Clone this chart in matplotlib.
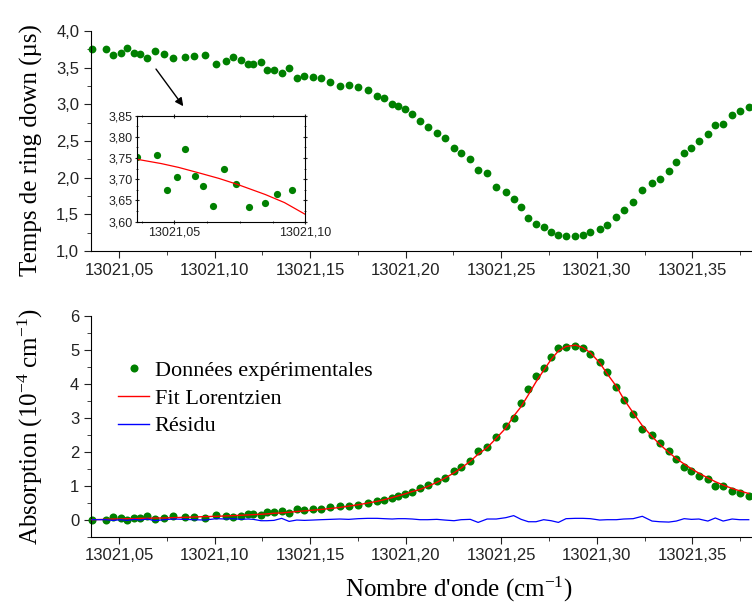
import matplotlib
matplotlib.use('Agg')
import matplotlib.pyplot as plt
from matplotlib.lines import Line2D
from matplotlib.ticker import MultipleLocator, FuncFormatter

# nombre d'onde (cm-1)
wn = [13021.0359, 13021.0432, 13021.0470, 13021.0510, 13021.0542, 13021.0580, 13021.0610, 13021.0648, 13021.0688, 13021.0735,
      13021.0784, 13021.0844, 13021.0891, 13021.0950, 13021.1009, 13021.1058, 13021.1097, 13021.1137, 13021.1175, 13021.1203,
      13021.1243, 13021.1274, 13021.1311, 13021.1351, 13021.1390, 13021.1430, 13021.1470, 13021.1515, 13021.1555, 13021.1606,
      13021.1655, 13021.1702, 13021.1752, 13021.1801, 13021.1850, 13021.1888, 13021.1929, 13021.1960, 13021.1997, 13021.2035,
      13021.2075, 13021.2115, 13021.2163, 13021.2204, 13021.2253, 13021.2290, 13021.2338, 13021.2379, 13021.2426, 13021.2474,
      13021.2524, 13021.2565, 13021.2604, 13021.2642, 13021.2682, 13021.2722, 13021.2761, 13021.2799, 13021.2839, 13021.2888,
      13021.2927, 13021.2966, 13021.3015, 13021.3054, 13021.3102, 13021.3141, 13021.3190, 13021.3238, 13021.3289, 13021.3329,
      13021.3377, 13021.3416, 13021.3457, 13021.3495, 13021.3534, 13021.3581, 13021.3620, 13021.3661, 13021.3708, 13021.3748,
      13021.3795]

# temps de ring down (us)
tau = [3.752, 3.757, 3.675, 3.705, 3.772, 3.707, 3.683, 3.637, 3.724, 3.688,
       3.634, 3.643, 3.665, 3.674, 3.553, 3.594, 3.641, 3.604, 3.545, 3.545,
       3.577, 3.467, 3.467, 3.426, 3.491, 3.362, 3.385, 3.372, 3.362, 3.299,
       3.253, 3.267, 3.231, 3.190, 3.112, 3.085, 2.999, 2.972, 2.935, 2.871,
       2.771, 2.685, 2.603, 2.539, 2.406, 2.343, 2.248, 2.111, 2.061, 1.879,
       1.801, 1.715, 1.596, 1.450, 1.374, 1.323, 1.264, 1.218, 1.210, 1.210,
       1.218, 1.255, 1.300, 1.350, 1.460, 1.559, 1.674, 1.828, 1.924, 1.983,
       2.088, 2.211, 2.334, 2.398, 2.507, 2.593, 2.720, 2.734, 2.853, 2.903,
       2.962]

# absorption (1e-4 cm-1)
absorb = [0.00, 0.00, 0.07, 0.04, 0.00, 0.04, 0.05, 0.11, 0.02, 0.05,
          0.11, 0.09, 0.07, 0.06, 0.15, 0.11, 0.09, 0.12, 0.16, 0.16,
          0.14, 0.22, 0.23, 0.26, 0.20, 0.31, 0.29, 0.31, 0.31, 0.37,
          0.41, 0.41, 0.44, 0.49, 0.54, 0.58, 0.65, 0.70, 0.75, 0.81,
          0.94, 1.03, 1.15, 1.24, 1.44, 1.56, 1.74, 2.01, 2.14, 2.44,
          2.75, 2.99, 3.43, 3.85, 4.22, 4.47, 4.79, 5.07, 5.10, 5.12,
          5.05, 4.87, 4.63, 4.34, 3.91, 3.52, 3.11, 2.66, 2.49, 2.27,
          2.02, 1.80, 1.55, 1.44, 1.30, 1.20, 0.99, 1.00, 0.84, 0.80,
          0.71]

fit = [0.00, 0.01, 0.02, 0.02, 0.03, 0.03, 0.04, 0.04, 0.05, 0.05,
       0.06, 0.07, 0.08, 0.09, 0.10, 0.11, 0.12, 0.13, 0.14, 0.15,
       0.16, 0.17, 0.19, 0.20, 0.22, 0.24, 0.26, 0.28, 0.30, 0.33,
       0.36, 0.40, 0.44, 0.49, 0.54, 0.59, 0.65, 0.70, 0.76, 0.83,
       0.89, 0.98, 1.10, 1.22, 1.38, 1.52, 1.72, 1.93, 2.12, 2.40,
       2.70, 3.05, 3.33, 3.68, 4.06, 4.40, 4.72, 4.97, 5.10, 5.14,
       5.07, 4.92, 4.62, 4.30, 3.93, 3.55, 3.15, 2.77, 2.45, 2.22,
       1.98, 1.80, 1.64, 1.50, 1.37, 1.23, 1.12, 1.02, 0.92, 0.85,
       0.77]

resid = [0.00, 0.00, -0.02, 0.00, -0.02, 0.01, -0.01, 0.02, -0.03, 0.00,
         0.02, 0.01, 0.00, -0.01, 0.03, 0.02, 0.03, 0.01, 0.02, 0.01,
         -0.03, -0.03, -0.02, 0.04, -0.05, -0.01, -0.02, -0.01, 0.00, 0.01,
         0.02, 0.01, 0.03, 0.04, 0.04, 0.03, 0.02, 0.03, 0.03, 0.02,
         0.00, 0.00, 0.01, -0.01, -0.03, 0.00, 0.01, -0.08, 0.02, 0.02,
         0.06, 0.12, 0.01, -0.06, -0.06, 0.00, -0.03, -0.08, 0.03, 0.04,
         0.04, 0.03, -0.01, 0.00, 0.00, 0.02, 0.03, 0.10, -0.04, -0.06,
         -0.07, -0.04, 0.03, 0.01, 0.02, -0.04, 0.05, -0.04, 0.02, 0.00,
         0.00]

# ajustement dans l'encart
wn_ins = [13021.0359, 13021.045, 13021.0516, 13021.060, 13021.067, 13021.074, 13021.0847, 13021.092, 13021.100]
tau_ins = [3.747, 3.737, 3.728, 3.714, 3.702, 3.688, 3.664, 3.645, 3.617]

plt.rcParams['font.family'] = 'Liberation Sans'
plt.rcParams['mathtext.fontset'] = 'custom'
plt.rcParams['mathtext.rm'] = 'Liberation Serif'
plt.rcParams['mathtext.it'] = 'Liberation Serif:italic'

serif = 'Liberation Serif'
green = '#008000'
xlim = (13021.03535, 13021.3812)


def comma(nd):
    fmt = '%.' + str(nd) + 'f'
    return FuncFormatter(lambda v, p: (fmt % v).replace('.', ','))


def style(ax):
    for s in ['top', 'right']:
        ax.spines[s].set_visible(False)
    ax.tick_params(which='both', direction='out', labelsize=12, colors='#222222')
    ax.tick_params(which='major', length=5)
    ax.tick_params(which='minor', length=3)
    ax.set_xlim(*xlim)
    ax.xaxis.set_major_locator(MultipleLocator(0.05))
    ax.xaxis.set_minor_locator(MultipleLocator(0.025))
    ax.xaxis.set_major_formatter(comma(2))


fig = plt.figure(figsize=(7.52, 6.06), dpi=100)

# panneau du haut
ax1 = fig.add_axes([0.1210, 0.5858, 0.8790, 0.3630])
style(ax1)
ax1.plot(wn, tau, 'o', color=green, ms=5.6, mec='none', clip_on=False)
ax1.set_ylim(1.0, 4.0)
ax1.yaxis.set_major_locator(MultipleLocator(0.5))
ax1.yaxis.set_minor_locator(MultipleLocator(0.25))
ax1.yaxis.set_major_formatter(comma(1))
ax1.set_ylabel('Temps de ring down (µs)', family=serif, fontsize=18)
ax1.yaxis.set_label_coords(-0.072, 0.46)
ax1.annotate('', xy=(13021.0845, 2.944), xytext=(13021.0685, 3.512),
             arrowprops=dict(arrowstyle='-|>', color='k', lw=1, mutation_scale=12))

# encart
ins = fig.add_axes([0.1828, 0.6342, 0.2234, 0.1749])
ins.plot(wn, tau, 'o', color=green, ms=5.2, mec='none', clip_on=True)
ins.plot(wn_ins, tau_ins, color='red', lw=0.9)
ins.set_xlim(13021.0359, 13021.100)
ins.set_ylim(3.60, 3.85)
ins.xaxis.set_major_locator(MultipleLocator(0.05))
ins.xaxis.set_minor_locator(MultipleLocator(0.0125))
ins.yaxis.set_major_locator(MultipleLocator(0.05))
ins.yaxis.set_minor_locator(MultipleLocator(0.025))
ins.xaxis.set_major_formatter(comma(2))
ins.yaxis.set_major_formatter(comma(2))
ins.tick_params(which='both', direction='out', labelsize=9, colors='#222222', pad=2)
ins.tick_params(which='major', length=3)
ins.tick_params(which='minor', length=2)
ins.tick_params(axis='y', which='both', right=True, direction='inout')
ins.tick_params(axis='x', which='both', top=True, direction='inout')

# panneau du bas
ax2 = fig.add_axes([0.1210, 0.1144, 0.8790, 0.3642])
style(ax2)
ax2.plot(wn, absorb, 'o', color=green, ms=5.8, mec='none', clip_on=False, zorder=2)
ax2.plot(wn, fit, color='red', lw=1, zorder=3)
ax2.plot(wn, resid, color='blue', lw=0.9, zorder=3)
ax2.set_ylim(-0.5, 6)
ax2.yaxis.set_major_locator(MultipleLocator(1))
ax2.yaxis.set_minor_locator(MultipleLocator(0.5))
ax2.yaxis.set_major_formatter(FuncFormatter(lambda v, p: '%d' % round(v)))
ax2.set_ylabel(r'Absorption (10$^{-4}$ cm$^{-1}$)', family=serif, fontsize=18)
ax2.yaxis.set_label_coords(-0.070, 0.5)
ax2.set_xlabel(r"Nombre d'onde (cm$^{-1}$)", family=serif, fontsize=18)
ax2.xaxis.set_label_coords(0.557, -0.175)

handles = [Line2D([], [], marker='o', ls='none', color=green, ms=5.8, mec='none'),
           Line2D([], [], color='red', lw=1),
           Line2D([], [], color='blue', lw=1)]
ax2.legend(handles, ['Données expérimentales', 'Fit Lorentzien', 'Résidu'],
           loc='upper left', bbox_to_anchor=(0.041, 0.80), frameon=False,
           prop={'family': serif, 'size': 16}, handlelength=1.4,
           handletextpad=0.25, labelspacing=0.33, borderpad=0, borderaxespad=0)

fig.savefig('out.png', dpi=100)
